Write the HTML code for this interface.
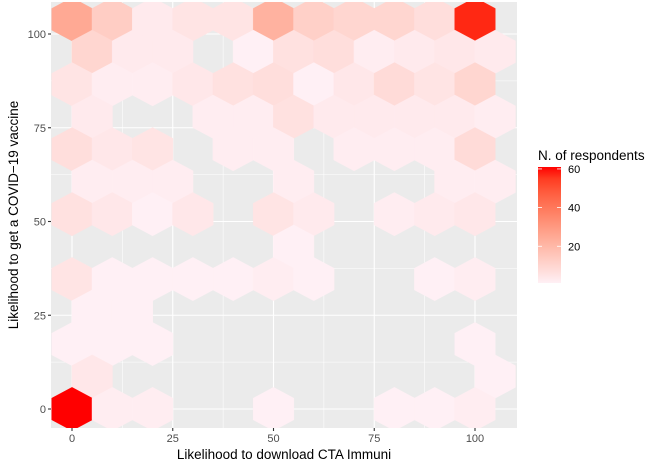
<!DOCTYPE html>
<html><head><meta charset="utf-8"><style>
html,body{margin:0;padding:0;background:#fff;}
svg{display:block;font-family:"Liberation Sans",Arial,sans-serif;}
</style></head><body>
<svg id="chart" width="660" height="471" viewBox="0 0 660 471"></svg>
<script>
// Row index k -> y = k*8.66; even rows at x=0..100, odd rows at x=5..105
const rowIndex = [12,12,12,12,12,12,12,12,12,12,12,
  11,11,11,11,11,11,11,11,11,11,
  10,10,10,10,10,10,10,10,10,10,10,
  9,9,9,9,9,9,9,9,9,
  8,8,8,8,8,8,8,8,8,
  7,7,7,7,7,7,
  6,6,6,6,6,6,6,6,6,
  5,
  4,4,4,4,4,4,4,4,4,
  3,3,
  2,2,2,2,
  1,1,
  0,0,0,0,0,0,0];
const xCenters = [0,10,20,30,40,50,60,70,80,90,100,
  5,15,25,45,55,65,75,85,95,105,
  0,10,20,30,40,50,60,70,80,90,100,
  5,35,45,55,65,75,85,95,105,
  0,10,20,40,50,70,80,90,100,
  5,15,25,55,95,105,
  0,10,20,30,50,60,80,90,100,
  55,
  0,10,20,30,40,50,60,90,100,
  5,15,
  0,10,20,100,
  5,105,
  0,10,20,50,80,90,100];
const counts = [25,13,3,5,5,22,12,10,10,7,58,
  10,3,3,1,6,7,2,3,4,3,
  5,2,2,4,6,7,1,4,8,5,10,
  3,2,2,6,3,3,3,3,2,
  7,4,5,2,2,2,2,2,8,
  2,2,2,2,2,2,
  6,4,1,4,5,3,2,3,4,
  1,
  5,1,1,1,1,2,1,1,2,
  1,1,
  1,1,1,1,
  4,1,
  61,2,2,1,1,1,2];
const xTicks = [0,25,50,75,100];
const yTicks = [0,25,50,75,100];
const legendTicks = [20,40,60];
const cMin = 1, cMax = 61;

const NS = "http://www.w3.org/2000/svg";
const svg = document.getElementById('chart');
const P = {l:51, r:517, t:2, b:428};
const xs = v => 72 + v*4.03;
const ys = v => 409 - v*3.75;
function mk(tag, attrs, parent){const e=document.createElementNS(NS,tag);for(const k in attrs)e.setAttribute(k,attrs[k]);(parent||svg).appendChild(e);return e;}

// Lab color interpolation
function s2l(c){c/=255;return c<=0.04045?c/12.92:Math.pow((c+0.055)/1.055,2.4);}
function l2s(c){c=c<=0.0031308?12.92*c:1.055*Math.pow(c,1/2.4)-0.055;return Math.max(0,Math.min(255,Math.round(c*255)));}
function toLab(rgb){const [r,g,b]=rgb.map(s2l);let X=(0.4124*r+0.3576*g+0.1805*b)/0.95047,Y=0.2126*r+0.7152*g+0.0722*b,Z=(0.0193*r+0.1192*g+0.9505*b)/1.08883;const f=t=>t>0.008856?Math.cbrt(t):7.787*t+16/116;const fx=f(X),fy=f(Y),fz=f(Z);return [116*fy-16,500*(fx-fy),200*(fy-fz)];}
function fromLab(L){const fy=(L[0]+16)/116,fx=fy+L[1]/500,fz=fy-L[2]/200;const fi=t=>t*t*t>0.008856?t*t*t:(t-16/116)/7.787;const X=fi(fx)*0.95047,Y=fi(fy),Z=fi(fz)*1.08883;const r=3.2406*X-1.5372*Y-0.4986*Z,g=-0.9689*X+1.8758*Y+0.0415*Z,b=0.0557*X-0.2040*Y+1.0570*Z;return `rgb(${l2s(r)},${l2s(g)},${l2s(b)})`;}
const lowLab = toLab([255,240,245]), highLab = toLab([255,0,0]);
function col(v){const t=Math.max(0,Math.min(1,(v-cMin)/(cMax-cMin)));return fromLab(lowLab.map((a,i)=>a+(highLab[i]-a)*t));}

const defs = mk('defs',{});
const cp = mk('clipPath',{id:'panelclip'},defs);
mk('rect',{x:P.l,y:P.t,width:P.r-P.l,height:P.b-P.t},cp);
const grad = mk('linearGradient',{id:'lg',x1:0,y1:1,x2:0,y2:0},defs);
for(let i=0;i<=10;i++){const st=mk('stop',{offset:i/10,'stop-color':col(cMin+(cMax-cMin)*i/10)},grad);}

const panel = mk('rect',{x:P.l,y:P.t,width:P.r-P.l,height:P.b-P.t,fill:'#EBEBEB'});



const grid = mk('g',{'clip-path':'url(#panelclip)'});


for(const v of [12.5,37.5,62.5,87.5]){
  mk('line',{x1:xs(v),x2:xs(v),y1:P.t,y2:P.b,stroke:'#fff','stroke-width':0.55},grid);
  mk('line',{x1:P.l,x2:P.r,y1:ys(v),y2:ys(v),stroke:'#fff','stroke-width':0.55},grid);
}
for(const v of xTicks) mk('line',{x1:xs(v),x2:xs(v),y1:P.t,y2:P.b,stroke:'#fff','stroke-width':1.1},grid);
for(const v of yTicks) mk('line',{x1:P.l,x2:P.r,y1:ys(v),y2:ys(v),stroke:'#fff','stroke-width':1.1},grid);

const hexG = mk('g',{'clip-path':'url(#panelclip)'});


const HW = 20.3, HR = 21.7;
for(let i=0;i<counts.length;i++){
  const cx = xs(xCenters[i]), cy = ys(rowIndex[i]*8.66);
  const pts = [[cx,cy-HR],[cx+HW,cy-HR/2],[cx+HW,cy+HR/2],[cx,cy+HR],[cx-HW,cy+HR/2],[cx-HW,cy-HR/2]].map(p=>p[0].toFixed(2)+','+p[1].toFixed(2)).join(' ');
  const h = mk('polygon',{points:pts,fill:col(counts[i]),stroke:col(counts[i]),'stroke-width':0.4},hexG);
  
  
}

const axes = mk('g',{});


for(const v of xTicks){
  mk('line',{x1:xs(v),x2:xs(v),y1:P.b,y2:P.b+3,stroke:'#333','stroke-width':1.1},axes);
  const t = mk('text',{x:xs(v),y:P.b+14,'text-anchor':'middle','font-size':11,fill:'#4D4D4D'},axes);
  t.textContent = v;
  
  
}
for(const v of yTicks){
  mk('line',{x1:P.l-3,x2:P.l,y1:ys(v),y2:ys(v),stroke:'#333','stroke-width':1.1},axes);
  const t = mk('text',{x:P.l-5,y:ys(v)+4,'text-anchor':'end','font-size':11,fill:'#4D4D4D'},axes);
  t.textContent = v;
  
  
}
const xt = mk('text',{x:284,y:459,'text-anchor':'middle','font-size':13.5,fill:'#000'});
xt.textContent='Likelihood to download CTA Immuni';


const yt = mk('text',{x:0,y:0,'text-anchor':'middle','font-size':13.5,fill:'#000',transform:'translate(18,215) rotate(-90)'});
yt.textContent='Likelihood to get a COVID\u221219 vaccine';



const leg = mk('g',{});


const lt = mk('text',{x:538,y:160,'font-size':13.5,fill:'#000'},leg);
lt.textContent='N. of respondents';


const lbTop=167, lbBot=283;
const ly = v => lbBot - (v-cMin)/(cMax-cMin)*(lbBot-lbTop);
const bar = mk('rect',{x:538,y:lbTop,width:23,height:lbBot-lbTop,fill:'url(#lg)'},leg);


for(const v of legendTicks){
  mk('line',{x1:538,x2:542,y1:ly(v),y2:ly(v),stroke:'#fff','stroke-width':0.8},leg);
  mk('line',{x1:557,x2:561,y1:ly(v),y2:ly(v),stroke:'#fff','stroke-width':0.8},leg);
  const t = mk('text',{x:568,y:ly(v)+4,'font-size':11,fill:'#000'},leg);
  t.textContent=v;
  
  
}
</script>
</body></html>
